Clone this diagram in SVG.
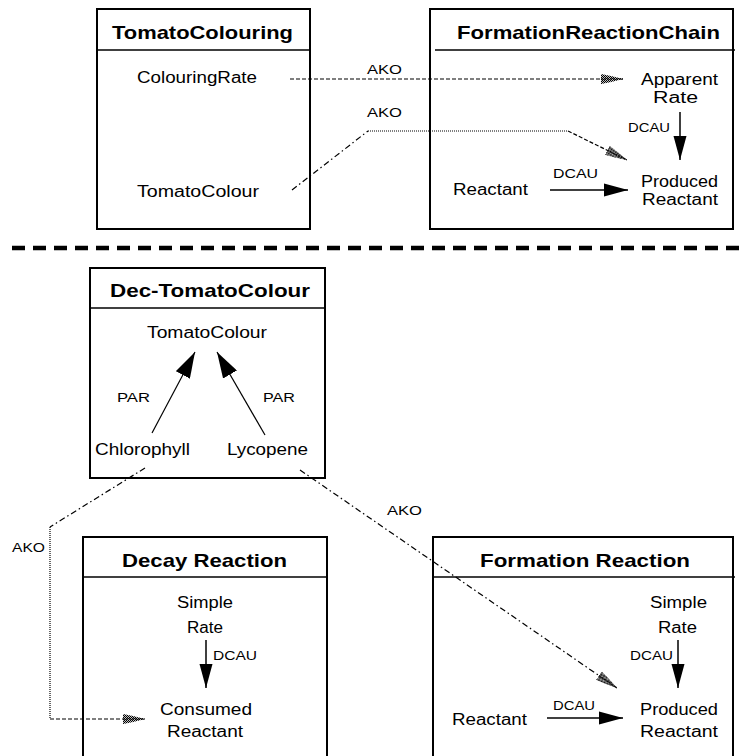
<svg xmlns="http://www.w3.org/2000/svg" width="744" height="756" viewBox="0 0 744 756">
  <style>
    .box { fill: #fff; stroke: #000; stroke-width: 2; }
    .hdr { stroke: #000; stroke-width: 1.6; }
    .ttl { font-family: "Liberation Sans", Arial, sans-serif; font-weight: bold; font-size: 19px; fill: #000; }
    .txt { font-family: "Liberation Sans", Arial, sans-serif; font-size: 16px; fill: #000; }
    .lbl { font-family: "Liberation Sans", Arial, sans-serif; font-size: 12.5px; fill: #000; }
    .dcau { stroke: #000; stroke-width: 1.5; fill: none; marker-end: url(#solid); }
    .par { stroke: #000; stroke-width: 1.2; fill: none; marker-end: url(#solidBig); }
    .ako { stroke: #000; stroke-width: 1.2; fill: none; }
    .dashed { stroke-dasharray: 4 2; }
    .dotted { stroke-dasharray: 1 1; }
    .dashdot { stroke-dasharray: 6 3 1.5 3; }
  </style>
  <defs>
    <pattern id="stipple" width="2" height="2" patternUnits="userSpaceOnUse">
      <rect width="2" height="2" fill="#fff"/>
      <rect width="1" height="1" fill="#000"/>
      <rect x="1" y="1" width="1" height="1" fill="#000"/>
    </pattern>
    <marker id="solid" viewBox="0 0 24 14" refX="24" refY="7" markerWidth="24" markerHeight="14" markerUnits="userSpaceOnUse" orient="auto">
      <path d="M0,0.5 L24,7 L0,13.5 z" fill="#000"/>
    </marker>
    <marker id="solidBig" viewBox="0 0 26 16" refX="26" refY="8" markerWidth="26" markerHeight="16" markerUnits="userSpaceOnUse" orient="auto">
      <path d="M0,0 L26,8 L0,16 z" fill="#000"/>
    </marker>
    <marker id="hatch" viewBox="0 0 22 12" refX="22" refY="6" markerWidth="22" markerHeight="12" markerUnits="userSpaceOnUse" orient="auto">
      <path d="M0,1 L10,3 L22,6 L10,9 L0,11 z" fill="url(#stipple)"/>
      <path d="M0,1 L10,3 L22,6 L10,9 L0,11 z" fill="#000" fill-opacity="0.25"/>
      <path d="M0,6 L22,6" stroke="#000" stroke-width="1.2" stroke-dasharray="2 1"/>
    </marker>
  </defs>

  <!-- separator between the two halves -->
  <line x1="12" y1="248" x2="744" y2="248" stroke="#000" stroke-width="4.5" stroke-dasharray="13 8"/>

  <g id="TomatoColouring">
    <rect class="box" x="97" y="9" width="213" height="220"/>
    <line class="hdr" x1="96" y1="50" x2="310" y2="50"/>
    <text class="ttl" x="112" y="39" textLength="181" lengthAdjust="spacingAndGlyphs">TomatoColouring</text>
    <text class="txt" x="137" y="83" textLength="120" lengthAdjust="spacingAndGlyphs">ColouringRate</text>
    <text class="txt" x="137" y="197" textLength="122" lengthAdjust="spacingAndGlyphs">TomatoColour</text>
  </g>

  <g id="FormationReactionChain">
    <rect class="box" x="430" y="9" width="303" height="220"/>
    <line class="hdr" x1="435" y1="50" x2="735" y2="50"/>
    <text class="ttl" x="457" y="39" textLength="263" lengthAdjust="spacingAndGlyphs">FormationReactionChain</text>
    <text class="txt" x="641" y="85" textLength="77" lengthAdjust="spacingAndGlyphs">Apparent</text>
    <text class="txt" x="653" y="103" textLength="45" lengthAdjust="spacingAndGlyphs">Rate</text>
    <text class="txt" x="641" y="187" textLength="77" lengthAdjust="spacingAndGlyphs">Produced</text>
    <text class="txt" x="642" y="205" textLength="76" lengthAdjust="spacingAndGlyphs">Reactant</text>
    <text class="txt" x="453" y="195" textLength="75" lengthAdjust="spacingAndGlyphs">Reactant</text>
    <line class="dcau" x1="680" y1="112" x2="680" y2="160"/>
    <text class="lbl" x="628" y="132" textLength="42" lengthAdjust="spacingAndGlyphs">DCAU</text>
    <line class="dcau" x1="550" y1="190" x2="628" y2="190"/>
    <text class="lbl" x="553" y="178" textLength="45" lengthAdjust="spacingAndGlyphs">DCAU</text>
  </g>

  <g id="Dec-TomatoColour">
    <rect class="box" x="90" y="268" width="235" height="210"/>
    <line class="hdr" x1="90" y1="308" x2="326" y2="308"/>
    <text class="ttl" x="110" y="297" textLength="200" lengthAdjust="spacingAndGlyphs">Dec-TomatoColour</text>
    <text class="txt" x="147" y="338" textLength="120" lengthAdjust="spacingAndGlyphs">TomatoColour</text>
    <text class="txt" x="95" y="455" textLength="95" lengthAdjust="spacingAndGlyphs">Chlorophyll</text>
    <text class="txt" x="227" y="455" textLength="81" lengthAdjust="spacingAndGlyphs">Lycopene</text>
    <line class="par" x1="152" y1="433" x2="195" y2="352"/>
    <line class="par" x1="265" y1="435" x2="217" y2="352"/>
    <text class="lbl" x="117" y="402" textLength="33" lengthAdjust="spacingAndGlyphs">PAR</text>
    <text class="lbl" x="263" y="402" textLength="32" lengthAdjust="spacingAndGlyphs">PAR</text>
  </g>

  <g id="DecayReaction">
    <rect class="box" x="83" y="537" width="244" height="240"/>
    <line class="hdr" x1="83" y1="577" x2="328" y2="577"/>
    <text class="ttl" x="122" y="567" textLength="165" lengthAdjust="spacingAndGlyphs">Decay Reaction</text>
    <text class="txt" x="177" y="608" textLength="56" lengthAdjust="spacingAndGlyphs">Simple</text>
    <text class="txt" x="187" y="633" textLength="36" lengthAdjust="spacingAndGlyphs">Rate</text>
    <line class="dcau" x1="206" y1="640" x2="206" y2="688"/>
    <text class="lbl" x="213" y="660" textLength="44" lengthAdjust="spacingAndGlyphs">DCAU</text>
    <text class="txt" x="160" y="715" textLength="92" lengthAdjust="spacingAndGlyphs">Consumed</text>
    <text class="txt" x="167" y="737" textLength="76" lengthAdjust="spacingAndGlyphs">Reactant</text>
  </g>

  <g id="FormationReaction">
    <rect class="box" x="433" y="537" width="300" height="240"/>
    <line class="hdr" x1="432" y1="577" x2="735" y2="577"/>
    <text class="ttl" x="480" y="567" textLength="210" lengthAdjust="spacingAndGlyphs">Formation Reaction</text>
    <text class="txt" x="650" y="608" textLength="57" lengthAdjust="spacingAndGlyphs">Simple</text>
    <text class="txt" x="658" y="633" textLength="39" lengthAdjust="spacingAndGlyphs">Rate</text>
    <line class="dcau" x1="678" y1="640" x2="678" y2="688"/>
    <text class="lbl" x="630" y="660" textLength="43" lengthAdjust="spacingAndGlyphs">DCAU</text>
    <text class="txt" x="640" y="715" textLength="78" lengthAdjust="spacingAndGlyphs">Produced</text>
    <text class="txt" x="640" y="737" textLength="78" lengthAdjust="spacingAndGlyphs">Reactant</text>
    <text class="txt" x="452" y="725" textLength="75" lengthAdjust="spacingAndGlyphs">Reactant</text>
    <line class="dcau" x1="547" y1="718" x2="623" y2="718"/>
    <text class="lbl" x="553" y="710" textLength="42" lengthAdjust="spacingAndGlyphs">DCAU</text>
  </g>

  <!-- AKO links between frames -->
  <g id="connectors">
    <line class="ako dashed" x1="290" y1="79" x2="623" y2="79" marker-end="url(#hatch)"/>
    <text class="lbl" x="367" y="74" textLength="35" lengthAdjust="spacingAndGlyphs">AKO</text>

    <path class="ako dashdot" d="M292,190 L368,131"/>
    <path class="ako dotted" d="M368,131 L568,131"/>
    <path class="ako dashed" d="M568,131 L627,160" marker-end="url(#hatch)"/>
    <text class="lbl" x="367" y="117" textLength="35" lengthAdjust="spacingAndGlyphs">AKO</text>

    <path class="ako dashdot" d="M145,468 L50,527"/>
    <path class="ako dotted" d="M50,527 L50,719"/>
    <path class="ako dashed" d="M50,719 L145,719" marker-end="url(#hatch)"/>
    <text class="lbl" x="12" y="552" textLength="33" lengthAdjust="spacingAndGlyphs">AKO</text>

    <path class="ako dashdot" d="M300,470 L617,688" marker-end="url(#hatch)"/>
    <text class="lbl" x="387" y="515" textLength="35" lengthAdjust="spacingAndGlyphs">AKO</text>
  </g>
</svg>
